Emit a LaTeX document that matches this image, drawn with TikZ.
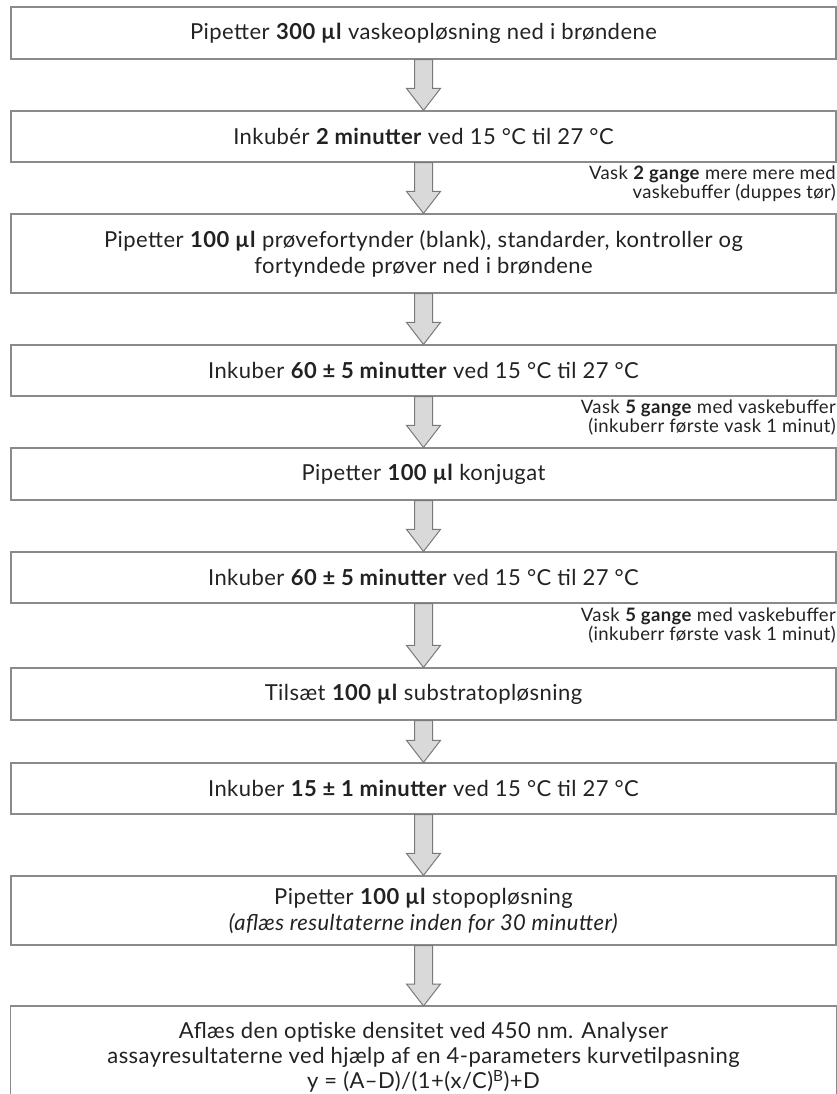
\documentclass[tikz,border=0pt]{standalone}
\usepackage{fontspec}
\setmainfont{Lato}[LetterSpace=2]
\usetikzlibrary{calc}

\definecolor{boxgray}{HTML}{8A8A8A}
\definecolor{arrowfill}{HTML}{D9D9D9}
\definecolor{arrowline}{HTML}{7A7A7A}
\definecolor{textdark}{HTML}{222222}

\tikzset{
	stepbox/.style={draw=boxgray, line width=1.2pt, minimum width=825pt, align=center, text=textdark, font=\fontsize{22}{26}\selectfont, inner sep=0pt},
	boxline/.style={draw=boxgray, line width=1.2pt},
	washnote/.style={anchor=north east, align=right, inner sep=0pt, text=textdark, font=\fontsize{18.5}{15}\selectfont},
	fatarrow/.style={fill=arrowfill, draw=arrowline, line width=1pt, line join=miter}
}

\newcommand\stepArrow[2]{%
	\filldraw[fatarrow] let \p1=(#1.south), \p2=(#2.north) in
		(\x1-9pt,\y1) -- (\x1-9pt,\y2+22pt) -- (\x1-17pt,\y2+22pt) -- (\x1,\y2)
		-- (\x1+17pt,\y2+22pt) -- (\x1+9pt,\y2+22pt) -- (\x1+9pt,\y1) -- cycle;}

\begin{document}
\begin{tikzpicture}[x=1pt,y=-1pt]
	\clip (0,0) rectangle (837,1094);

	\node[stepbox, minimum height=52pt] (wash300) at (423.5,33) {Pipetter \textbf{300 µl} vaskeopløsning ned i brøndene};
	\node[stepbox, minimum height=51pt] (inc2) at (423.5,136.5) {Inkubér \textbf{2 minutter} ved 15 °C til 27 °C};
	\node[washnote] (note1) at (836,166) {Vask \textbf{2 gange} mere mere med\\vaskebuffer (duppes tør)};
	\node[stepbox, minimum height=79pt] (samples) at (423.5,253.5) {Pipetter \textbf{100 µl} prøvefortynder (blank), standarder, kontroller og\\fortyndede prøver ned i brøndene};
	\node[stepbox, minimum height=51pt] (inc60a) at (423.5,370.5) {Inkuber \textbf{60 ± 5 minutter} ved 15 °C til 27 °C};
	\node[washnote] (note2) at (836,400) {Vask \textbf{5 gange} med vaskebuffer\\(inkuberr første vask 1 minut)};
	\node[stepbox, minimum height=52pt] (conj) at (423.5,474) {Pipetter \textbf{100 µl} konjugat};
	\node[stepbox, minimum height=51pt] (inc60b) at (423.5,577.5) {Inkuber \textbf{60 ± 5 minutter} ved 15 °C til 27 °C};
	\node[washnote] (note3) at (836,608) {Vask \textbf{5 gange} med vaskebuffer\\(inkuberr første vask 1 minut)};
	\node[stepbox, minimum height=52pt] (subst) at (423.5,694) {Tilsæt \textbf{100 µl} substratopløsning};
	\node[stepbox, minimum height=51pt] (inc15) at (423.5,788.5) {Inkuber \textbf{15 ± 1 minutter} ved 15 °C til 27 °C};
	\node[stepbox, minimum height=69pt] (stop) at (423.5,910.5) {Pipetter \textbf{100 µl} stopopløsning\\\textit{(aflæs resultaterne inden for 30 minutter)}};
	\node[stepbox, draw=none, anchor=north, inner ysep=16pt, font=\fontsize{22}{25}\selectfont] (readout) at (423.5,1006) {Aflæs den optiske densitet ved 450 nm. Analyser\\assayresultaterne ved hjælp af en 4-parameters kurvetilpasning\\y = (A--D)/(1+(x/C)\textsuperscript{B})+D};
	\draw[boxline] ([yshift=-40pt]readout.south west) -- (readout.north west) -- (readout.north east) -- ([yshift=-40pt]readout.south east);

	\stepArrow{wash300}{inc2}
	\stepArrow{inc2}{samples}
	\stepArrow{samples}{inc60a}
	\stepArrow{inc60a}{conj}
	\stepArrow{conj}{inc60b}
	\stepArrow{inc60b}{subst}
	\stepArrow{subst}{inc15}
	\stepArrow{inc15}{stop}
	\stepArrow{stop}{readout}
\end{tikzpicture}
\end{document}
